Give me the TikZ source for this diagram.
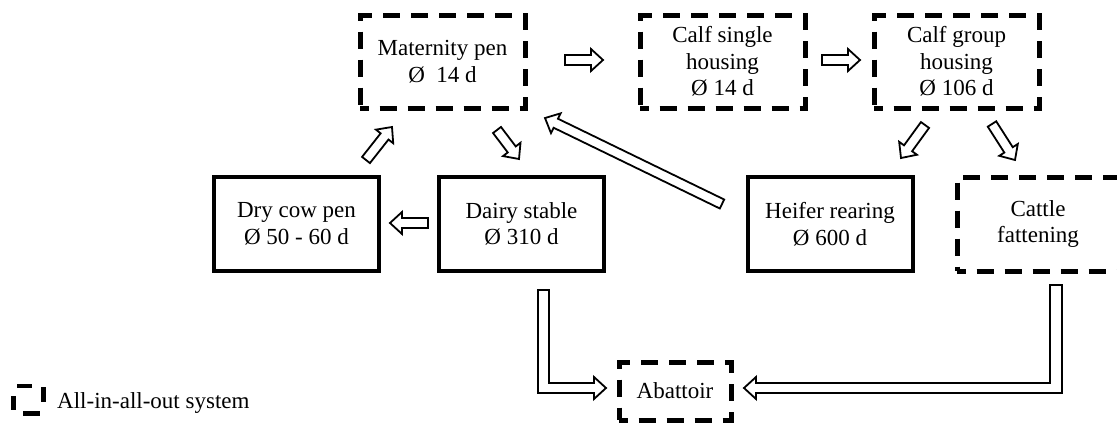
\documentclass[tikz,border=0pt]{standalone}
\usepackage{fontspec}
\setmainfont{Liberation Serif}
\usetikzlibrary{calc}

\tikzset{
  x=1pt, y=-1pt,
  lbl/.style={font=\fontsize{23pt}{26.5pt}\selectfont, align=center, inner sep=0pt},
  stage/.style={lbl, draw=black, line width=4pt, minimum width=165pt, minimum height=94pt},
  aiaostage/.style={lbl, draw=black, line width=5pt, dash pattern=on 17pt off 11pt,
                    dash phase=8.5pt, minimum width=165pt, minimum height=93pt},
  blockarrow/.style={draw=black, fill=white, line width=1.8pt, line join=miter},
  legendbar/.style={line width=4.5pt, line cap=butt},
}

% hollow block arrow from coordinate #1 to coordinate #2
\newcommand\fatarrow[2]{%
  \draw[blockarrow] let \p1=(#1), \p2=(#2),
      \n1={atan2(\y2-\y1,\x2-\x1)}, \n2={veclen(\x2-\x1,\y2-\y1)} in
    [shift={(\p1)}, rotate=\n1]
    (0pt,-5pt) -- ({\n2*1pt-12pt},-5pt) -- ({\n2*1pt-12pt},-11pt) -- ({\n2*1pt},0pt)
    -- ({\n2*1pt-12pt},11pt) -- ({\n2*1pt-12pt},5pt) -- (0pt,5pt) -- cycle;}

\begin{document}
\begin{tikzpicture}
\useasboundingbox (0,0) rectangle (1117,423);
\clip (0,0) rectangle (1117,423);

% stages
\node[aiaostage] (mat)    at (442.5,61.5) {Maternity pen\\Ø\ \ 14 d};
\node[aiaostage] (single) at (722.5,61.5) {Calf single\\housing\\Ø 14 d};
\node[aiaostage] (group)  at (956.5,61.5) {Calf group\\housing\\Ø 106 d};
\node[stage]     (dry)    at (296.5,224)  {Dry cow pen\\Ø 50 - 60 d};
\node[stage]     (dairy)  at (521.5,224)  {Dairy stable\\Ø 310 d};
\node[stage]     (heifer) at (830,224)    {Heifer rearing\\Ø 600 d};
\node[aiaostage, minimum width=170pt, minimum height=94pt] (cattle) at (1042,224)
  {\hspace*{-8pt}Cattle\\\hspace*{-8pt}fattening};
\node[aiaostage, minimum width=112pt, minimum height=58pt] (abattoir) at (675,391) {Abattoir};

% arrow end points
\coordinate (matS)    at (565,60);   \coordinate (singleE) at (603,60);
\coordinate (singleS) at (822,60);   \coordinate (groupE)  at (860,60);
\coordinate (dairyS)  at (428,223);  \coordinate (dryE)    at (390,223);
\coordinate (dryS)    at (366,160);  \coordinate (matE1)   at (392,127);
\coordinate (matS2)   at (497,130);  \coordinate (dairyE)  at (519,159);
\coordinate (heiferS) at (722,204);  \coordinate (matE2)   at (545,118);
\coordinate (groupS1) at (925,125);  \coordinate (heiferE) at (901,158);
\coordinate (groupS2) at (992,124);  \coordinate (cattleE) at (1015,160);

\fatarrow{matS}{singleE}
\fatarrow{singleS}{groupE}
\fatarrow{dairyS}{dryE}
\fatarrow{dryS}{matE1}
\fatarrow{matS2}{dairyE}
\fatarrow{heiferS}{matE2}
\fatarrow{groupS1}{heiferE}
\fatarrow{groupS2}{cattleE}

% dairy stable -> abattoir
\draw[blockarrow] (538,290) -- (549,290) -- (549,383) -- (594,383) -- (594,377)
  -- (606,388) -- (594,399) -- (594,393) -- (538,393) -- cycle;
% cattle fattening -> abattoir
\draw[blockarrow] (1050,285) -- (1062,285) -- (1062,393) -- (756,393) -- (756,399)
  -- (744,388) -- (756,377) -- (756,383) -- (1050,383) -- cycle;

% legend
\draw[legendbar] (17,386) -- (32,386);
\draw[legendbar] (13.5,396) -- (13.5,410);
\draw[legendbar] (23,413.5) -- (40,413.5);
\draw[legendbar] (43.5,387) -- (43.5,402);
\node[lbl, anchor=base west] (legend) at (57,408) {All-in-all-out system};
\end{tikzpicture}
\end{document}
